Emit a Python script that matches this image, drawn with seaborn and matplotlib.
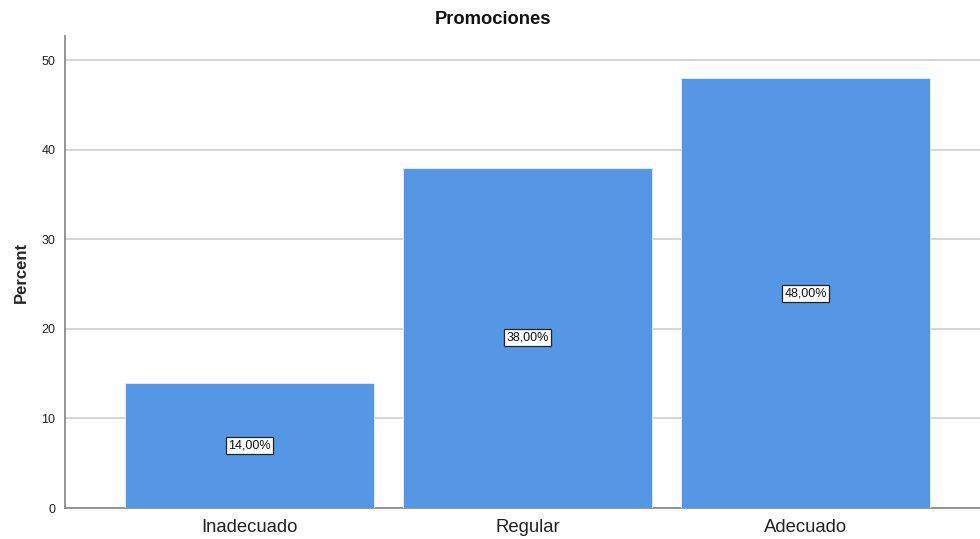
import matplotlib
matplotlib.use("Agg")
import matplotlib.pyplot as plt
import seaborn as sns
import pandas as pd

categories = ["Inadecuado", "Regular", "Adecuado"]
percents = [14.0, 38.0, 48.0]
y_ticks = [0, 10, 20, 30, 40, 50]

df = pd.DataFrame({"categoria": categories, "percent": percents})

sns.set_style("white")
plt.rcParams["font.family"] = ["Liberation Sans", "DejaVu Sans"]

fig = plt.figure(figsize=(9.8, 5.39), dpi=100)
ax = fig.add_axes([0.0663, 0.0575, 0.9337, 0.8755])

sns.barplot(data=df, x="categoria", y="percent", order=categories,
            color="#5596E5", saturation=1, width=0.896,
            edgecolor="#e8f0fb", linewidth=0.6, ax=ax, zorder=3)

ax.set_xlim(-0.6637, 2.6277)
ax.set_ylim(0, 52.68)
ax.set_yticks(y_ticks)
ax.yaxis.grid(True, color="#d6d6d6", linewidth=1.4, zorder=0)
ax.set_axisbelow(True)

for side in ["top", "right"]:
    ax.spines[side].set_visible(False)
for side in ["left", "bottom"]:
    ax.spines[side].set_color("#8c8c8c")
    ax.spines[side].set_linewidth(1.3)

ax.tick_params(axis="y", labelsize=9, colors="#222222", length=0, pad=7)
ax.tick_params(axis="x", labelsize=13.3, colors="#222222", length=0, pad=8)
ax.set_xlabel("")
ax.set_ylabel("Percent", fontsize=12, fontweight="bold", labelpad=9)
fig.text(493 / 980, 1 - 20 / 539, "Promociones", ha="center", va="center",
         fontsize=13.2, fontweight="bold", color="#111111")

for i, v in enumerate(percents):
    ax.text(i, v / 2, f"{v:.2f}%".replace(".", ","), ha="center", va="center",
            fontsize=9, color="#111111", zorder=5,
            bbox=dict(boxstyle="square,pad=0.2", facecolor="white",
                      edgecolor="#222222", linewidth=0.9))

fig.savefig("out.png", dpi=100)
